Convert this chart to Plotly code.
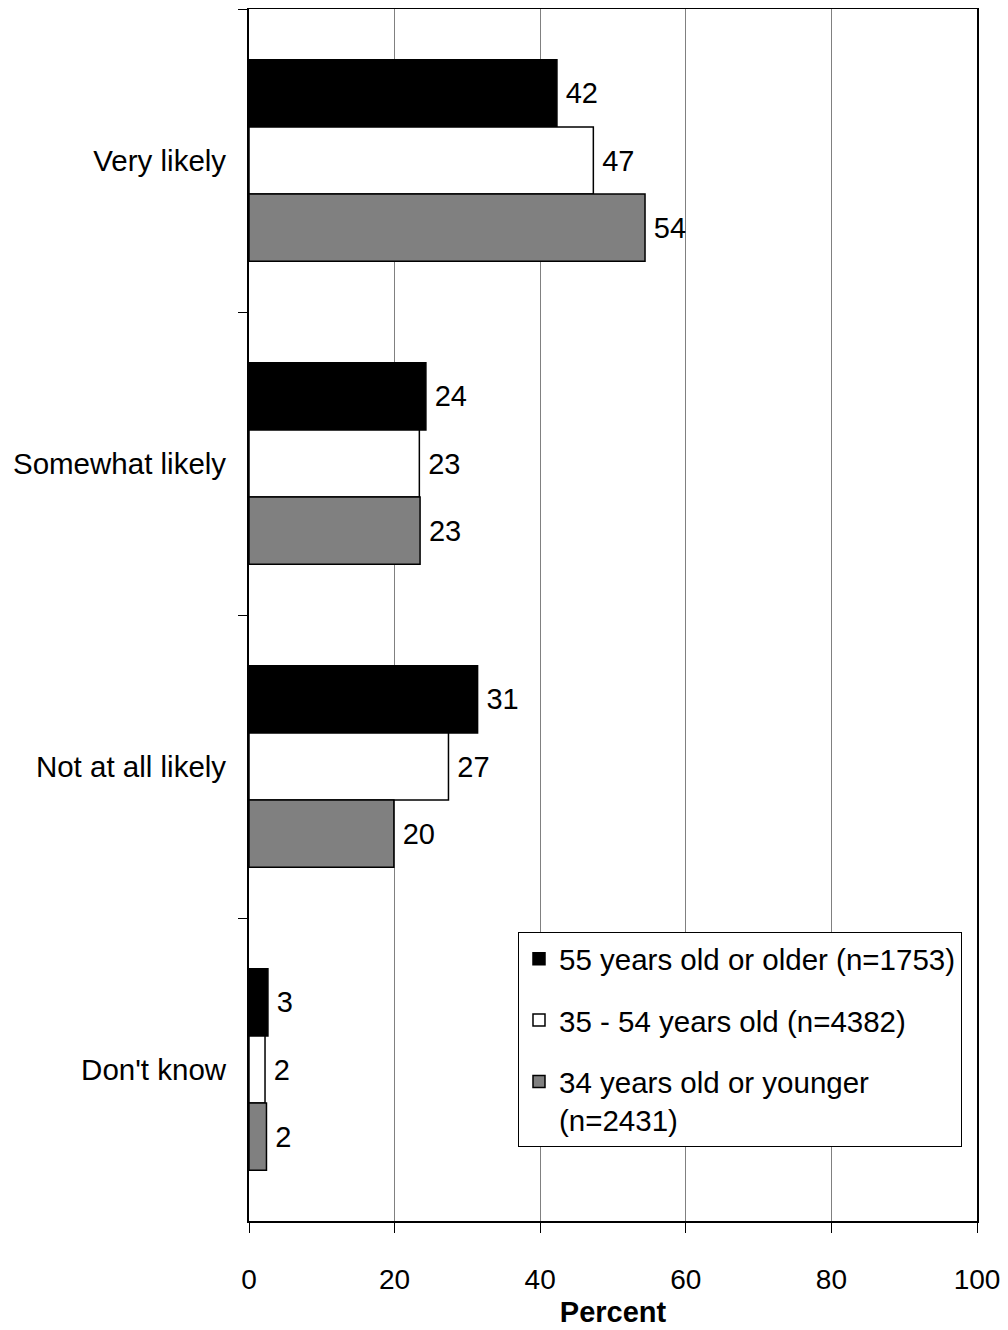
import plotly.graph_objects as go

categories = ["Very likely", "Somewhat likely", "Not at all likely", "Don't know"]
series_names = ["55 years old or older (n=1753)", "35 - 54 years old (n=4382)", "34 years old or younger<br>(n=2431)"]
values_55plus = [42.3, 24.3, 31.4, 2.6]
values_35_54 = [47.3, 23.4, 27.4, 2.2]
values_34minus = [54.4, 23.5, 19.9, 2.4]
labels_55plus = ["42", "24", "31", "3"]
labels_35_54 = ["47", "23", "27", "2"]
labels_34minus = ["54", "23", "20", "2"]
x_ticks = [0, 20, 40, 60, 80, 100]

colors = ["#000000", "#ffffff", "#808080"]
FONT = "Liberation Sans, Arial, sans-serif"
FS = 29

fig = go.Figure()
for i, (name, vals, labs) in enumerate(zip(series_names,
                                          [values_55plus, values_35_54, values_34minus],
                                          [labels_55plus, labels_35_54, labels_34minus])):
    fig.add_trace(go.Bar(
        y=categories, x=vals, orientation="h", name=name,
        text=labs, texttemplate="\u2009%{text}", textposition="outside", cliponaxis=False,
        textfont=dict(size=FS, color="black", family=FONT),
        marker=dict(color=colors[i], line=dict(color="black", width=1.5)),
        legendgroup=f"g{i}",
    ))

# page body has an 8px margin, so the figure is 8px smaller and margins shifted
fig.update_layout(
    width=1000, height=1322,
    margin=dict(l=241, r=31, t=1, b=109, autoexpand=False),
    paper_bgcolor="white", plot_bgcolor="white",
    barmode="group", bargap=0.335, bargroupgap=0,
    font=dict(family=FONT, size=FS, color="black"),
    showlegend=True,
    legend=dict(
        x=0.3695, y=0.2384, xanchor="left", yanchor="top",
        bgcolor="white", bordercolor="black", borderwidth=1,
        font=dict(size=29.5, family=FONT),
        traceorder="grouped", tracegroupgap=20, valign="top",
        entrywidth=420,
    ),
    uniformtext=dict(mode=False),
)
fig.update_xaxes(
    range=[0, 100], tickvals=x_ticks, ticktext=[str(t) for t in x_ticks],
    showgrid=True, gridcolor="#808080", gridwidth=1,
    showline=True, linecolor="black", linewidth=2, mirror=True,
    ticks="outside", ticklen=10, tickcolor="black",
    zeroline=False,
    title=dict(text="<b>Percent</b>", font=dict(size=FS, family=FONT), standoff=8),
    tickfont=dict(size=28), ticklabelstandoff=22,
)
fig.update_yaxes(
    autorange="reversed", type="category",
    showgrid=False, showline=True, linecolor="black", linewidth=2, mirror=True,
    ticks="outside", ticklen=9, tickcolor="black", tickson="boundaries",
    tickfont=dict(size=29.5), ticklabelstandoff=15,
)

fig.write_html("out.html")
